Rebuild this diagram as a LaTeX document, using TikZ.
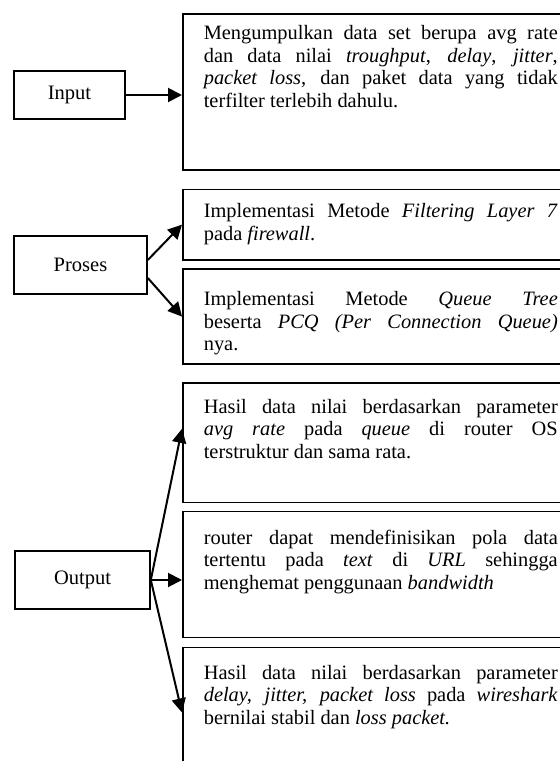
\documentclass[tikz,border=0pt]{standalone}
\usepackage{fontspec}
\setmainfont{Liberation Serif}
\usetikzlibrary{arrows.meta}
\newcommand{\isi}[3]{\parbox[t][#1][t]{354pt}{\hyphenpenalty=10000\tolerance=9999\vspace*{#2}\strut#3}}

\begin{document}
\begin{tikzpicture}
    [x=1pt,y=-1pt,
     isian/.style={rectangle,draw,line width=1.6pt,inner xsep=21pt,inner ysep=0pt,anchor=north west,font=\fontsize{20.4}{22.5}\selectfont},
     kotak/.style={rectangle,draw,line width=1.6pt,font=\fontsize{20.5}{22}\selectfont},
     panah/.style={-{Triangle[length=14pt,width=14pt]},line width=2pt}]
    \useasboundingbox (0,0) rectangle (560,761);
    \clip (0,0) rectangle (560,761);

    \node[isian] (kumpul) at (182,13.3) {\isi{156pt}{10pt}{Mengumpulkan data set berupa avg rate\linebreak
      dan data nilai \textit{troughput}, \textit{delay}, \textit{jitter},\linebreak
      \textit{packet loss}, dan paket data yang tidak\linebreak
      terfilter terlebih dahulu.}};
    \node[isian] (saring) at (182,188.7) {\isi{70.3pt}{12.25pt}{Implementasi Metode \textit{Filtering Layer 7}\linebreak
      pada \textit{firewall}.}};
    \node[isian] (antri) at (182,268.3) {\isi{95pt}{21pt}{Implementasi Metode \textit{Queue Tree}\linebreak
      beserta \textit{PCQ (Per Connection Queue)}\linebreak
      nya.}};
    \node[isian] (hasila) at (182,382.3) {\isi{119.4pt}{14.5pt}{Hasil data nilai berdasarkan parameter\linebreak
      \textit{avg rate} pada \textit{queue} di router OS\linebreak
      terstruktur dan sama rata.}};
    \node[isian] (ruter) at (182,510.7) {\isi{126pt}{17pt}{router dapat mendefinisikan pola data\linebreak
      tertentu pada \textit{text} di \textit{URL} sehingga\linebreak
      menghemat penggunaan \textit{bandwidth}}};
    \node[isian] (hasilb) at (182,646.7) {\isi{130pt}{16pt}{Hasil data nilai berdasarkan parameter\linebreak
      \textit{delay, jitter, packet loss} pada \textit{wireshark}\linebreak
      bernilai stabil dan \textit{loss packet.}}};

    \node[kotak,minimum width=111pt,minimum height=48pt] (input) at (69.5,95) {Input}
      edge [panah] (input.east -| kumpul.west);
    \node[kotak,minimum width=133pt,minimum height=58pt] (proses) at (80.5,265) {Proses};
    \node[kotak,minimum width=135pt,minimum height=58pt] (output) at (82.5,580) {Output}
      edge [panah] (output.east -| ruter.west);

    \draw[panah] ([yshift=5pt]proses.east) -- (saring.west);
    \draw[panah] ([yshift=-13pt]proses.east) -- (antri.west);
    \draw[panah] (output.east) -- ([yshift=14pt]hasila.west);
    \draw[panah] (output.east) -- (hasilb.west);
\end{tikzpicture}
\end{document}
